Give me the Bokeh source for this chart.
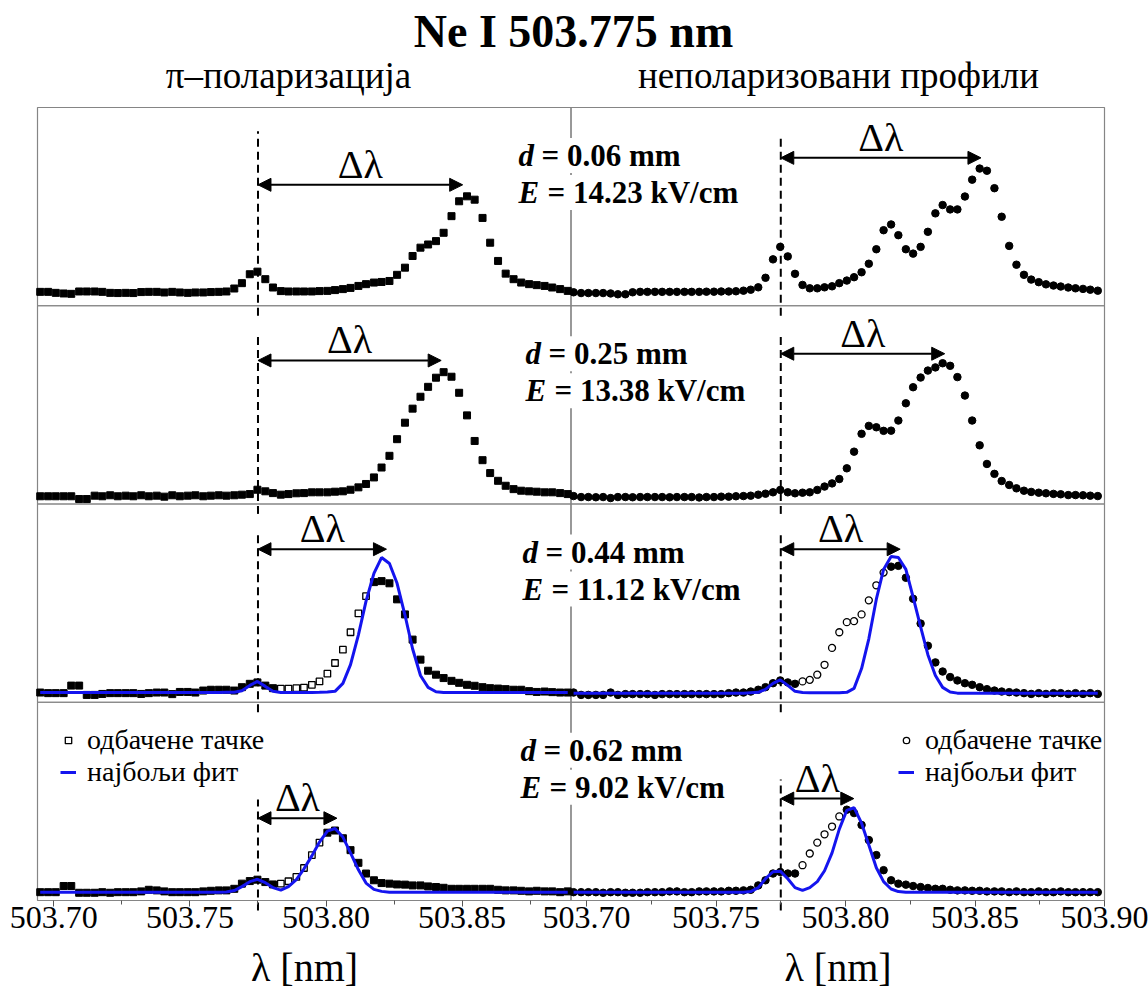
from bokeh.plotting import figure
from bokeh.models import (Range1d, LinearAxis, FixedTicker, PrintfTickFormatter, Label,
                          Arrow, NormalHead, Legend, LegendItem, BoxAnnotation)
from bokeh.embed import file_html
from bokeh.resources import INLINE

# ---------------- data ----------------
# wavelength sampling grid (nm)
LAM = [503.6950, 503.6979, 503.7007, 503.7036, 503.7064, 503.7093, 503.7121, 503.7150, 503.7178, 503.7207,
       503.7235, 503.7264, 503.7292, 503.7321, 503.7349, 503.7378, 503.7406, 503.7435, 503.7463, 503.7492,
       503.7520, 503.7549, 503.7577, 503.7606, 503.7634, 503.7663, 503.7691, 503.7720, 503.7748, 503.7777,
       503.7805, 503.7834, 503.7862, 503.7891, 503.7919, 503.7948, 503.7976, 503.8005, 503.8033, 503.8062,
       503.8090, 503.8119, 503.8147, 503.8176, 503.8204, 503.8233, 503.8261, 503.8290, 503.8318, 503.8347,
       503.8375, 503.8404, 503.8432, 503.8461, 503.8489, 503.8518, 503.8546, 503.8575, 503.8603, 503.8632,
       503.8660, 503.8689, 503.8717, 503.8746, 503.8774, 503.8803, 503.8831, 503.8860, 503.8888, 503.8917,
       503.8945, 503.8974]

LINE_NM = 503.775          # unshifted Ne I line
D_MM = ["0.06", "0.25", "0.44", "0.62"]
E_KV = ["14.23", "13.38", "11.12", "9.02"]

# pi-polarisation (left column), intensity in % of panel height
PI_1 = [7.0, 7.0, 6.5, 6.2, 6.0, 7.2, 7.2, 7.2, 7.0, 6.5,
        6.4, 6.5, 6.4, 6.9, 7.0, 7.0, 6.7, 7.0, 6.7, 6.5,
        6.7, 6.7, 6.9, 7.0, 7.2, 8.7, 11.4, 15.9, 17.2, 13.4,
        9.2, 7.4, 7.2, 7.2, 7.2, 7.2, 7.4, 7.5, 7.9, 8.4,
        9.0, 10.0, 10.9, 11.7, 12.0, 12.5, 15.6, 19.2, 25.1, 29.3,
        30.9, 32.6, 36.8, 45.2, 52.7, 55.2, 53.5, 44.3, 31.8, 22.6,
        16.2, 13.4, 11.7, 10.9, 10.4, 10.0, 9.2, 8.4, 7.5]
PI_2 = [3.9, 3.9, 3.9, 3.9, 3.9, 2.5, 2.5, 4.2, 3.9, 4.4,
        3.9, 4.2, 3.9, 4.4, 3.9, 4.2, 3.7, 4.4, 3.9, 4.2,
        4.4, 3.9, 4.2, 4.4, 4.2, 4.4, 4.7, 5.0, 7.2, 6.4,
        5.5, 4.7, 5.0, 5.4, 5.5, 5.9, 5.9, 5.9, 6.2, 6.4,
        7.2, 8.4, 10.1, 13.4, 18.4, 24.3, 32.7, 41.0, 48.1, 54.1,
        59.1, 63.7, 66.5, 64.2, 56.1, 44.7, 31.8, 22.1, 15.6, 11.7,
        9.2, 7.5, 6.7, 6.4, 6.2, 5.9, 5.9, 5.5, 5.0]
PI_3 = [4.9, 4.6, 4.6, 4.6, 8.4, 8.4, 3.7, 3.7, 4.2, 4.6,
        4.6, 4.6, 4.6, 4.2, 4.6, 4.9, 4.9, 4.1, 5.2, 5.2,
        4.9, 5.9, 6.3, 6.3, 6.3, 5.9, 7.6, 9.3, 10.0, 8.4,
        7.1, 6.9, 6.9, 7.1, 7.4, 8.8, 10.5, 14.4, 19.8, 26.5,
        35.3, 44.8, 53.5, 60.6, 61.1, 60.0, 51.9, 44.3, 31.6, 21.5,
        15.9, 13.9, 12.2, 10.8, 9.8, 8.8, 8.3, 7.6, 7.1, 6.9,
        6.6, 6.3, 6.3, 5.6, 5.2, 5.4, 5.1, 4.9, 4.9]
PI_4 = [4.2, 4.2, 4.2, 7.3, 7.3, 3.9, 3.9, 3.9, 4.2, 3.9,
        4.2, 4.2, 4.2, 4.6, 5.4, 5.1, 4.6, 4.2, 4.2, 4.2,
        4.2, 4.6, 4.9, 5.1, 5.1, 5.9, 8.5, 9.8, 10.5, 9.3,
        8.1, 8.5, 9.7, 11.9, 16.4, 22.9, 29.2, 34.2, 35.3, 31.4,
        25.4, 19.0, 13.6, 10.2, 8.8, 8.5, 8.1, 8.0, 7.6, 7.6,
        7.1, 6.8, 6.4, 5.9, 5.9, 5.9, 5.9, 5.9, 5.9, 5.4,
        5.1, 5.1, 4.9, 4.6, 4.9, 4.6, 4.6, 4.2, 4.6]
FIT_PI_3 = [4.9, 4.9, 4.9, 4.9, 4.9, 4.9, 4.9, 4.9, 4.9, 4.9,
            4.9, 4.9, 4.9, 4.9, 4.9, 4.9, 4.9, 4.9, 4.9, 4.9,
            4.9, 4.9, 4.9, 4.9, 5.0, 5.0, 5.8, 8.5, 10.5, 8.0,
            5.5, 4.9, 4.9, 4.9, 4.9, 4.9, 5.0, 5.2, 5.5, 9.5,
            19.0, 34.0, 51.0, 65.0, 73.0, 70.0, 60.0, 44.0, 27.0, 13.5,
            7.5, 5.3, 4.9, 4.9, 4.9, 4.9, 4.9, 4.9, 4.9, 4.9,
            4.9, 4.9, 4.9, 4.9, 4.9, 4.9, 4.9, 4.9, 4.9]
FIT_PI_4 = [4.2, 4.2, 4.2, 4.2, 4.2, 4.2, 4.2, 4.2, 4.2, 4.2,
            4.2, 4.2, 4.2, 4.2, 4.2, 4.2, 4.2, 4.2, 4.2, 4.2,
            4.2, 4.2, 4.2, 4.2, 4.3, 5.0, 7.0, 9.5, 10.7, 9.0,
            6.5, 5.2, 7.0, 10.5, 16.0, 22.5, 29.5, 35.0, 36.3, 32.0,
            24.0, 15.5, 8.8, 5.6, 4.6, 4.2, 4.2, 4.2, 4.2, 4.2,
            4.2, 4.2, 4.2, 4.2, 4.2, 4.2, 4.2, 4.2, 4.2, 4.2,
            4.2, 4.2, 4.2, 4.2, 4.2, 4.2, 4.2, 4.2, 4.2]
DISC_PI_3 = [31, 32, 33, 34, 35, 36, 37, 38, 39, 40, 41, 42]
DISC_PI_4 = [31, 32, 33, 34, 35, 36]

# unpolarised profiles (right column)
UN_1 = [6.8, 6.4, 6.4, 6.4, 6.4, 6.2, 5.8, 5.8, 6.8, 7.0,
        7.0, 7.0, 7.0, 7.0, 7.0, 7.0, 7.0, 7.0, 7.1, 7.1,
        7.2, 7.2, 7.3, 7.6, 8.1, 9.3, 14.1, 23.4, 29.7, 24.9,
        16.1, 10.5, 8.8, 8.8, 9.3, 9.8, 11.4, 12.7, 14.4, 16.9,
        21.2, 28.5, 38.1, 41.0, 35.6, 28.5, 26.3, 29.7, 37.3, 46.6,
        50.8, 48.6, 48.6, 55.1, 63.6, 69.2, 68.1, 59.3, 44.9, 30.2,
        20.7, 15.6, 13.2, 11.9, 10.8, 10.2, 9.7, 9.2, 8.8, 8.5,
        8.1, 7.6]
UN_2 = [4.0, 3.5, 3.5, 3.4, 3.5, 3.0, 3.5, 3.5, 3.4, 3.5,
        3.5, 3.5, 3.5, 3.4, 3.5, 3.5, 3.5, 3.3, 3.5, 3.5,
        3.7, 3.7, 3.9, 4.0, 4.2, 4.7, 5.2, 5.9, 7.1, 5.9,
        5.4, 5.7, 5.9, 7.1, 8.8, 10.4, 12.6, 18.0, 26.4, 35.4,
        39.4, 38.7, 36.9, 37.0, 42.1, 50.8, 58.9, 63.8, 67.3, 68.9,
        71.0, 69.7, 64.0, 54.7, 42.1, 29.6, 20.2, 15.2, 11.6, 9.6,
        7.9, 6.7, 6.1, 5.7, 5.4, 5.1, 4.9, 4.5, 4.5, 4.4,
        4.2, 4.0]
UN_3 = [4.9, 3.7, 3.7, 3.7, 3.7, 4.9, 3.7, 4.1, 4.1, 4.1,
        4.1, 3.7, 4.1, 4.1, 4.1, 4.1, 4.1, 4.1, 4.1, 4.1,
        4.1, 4.6, 4.9, 4.9, 5.4, 6.3, 7.6, 9.6, 11.0, 10.0,
        9.3, 10.5, 11.3, 13.9, 18.9, 27.4, 35.3, 40.4, 40.9, 44.3,
        51.4, 59.0, 65.4, 68.4, 68.8, 62.8, 52.2, 39.7, 28.5, 20.1,
        15.5, 12.7, 11.0, 9.6, 8.8, 7.6, 6.6, 5.9, 5.4, 5.1,
        4.9, 4.6, 4.2, 4.6, 4.2, 4.6, 4.6, 4.2, 4.6, 4.2,
        4.6, 4.2]
UN_4 = [4.2, 4.2, 4.2, 4.2, 3.9, 4.2, 4.2, 3.9, 3.9, 3.9,
        4.2, 4.2, 4.2, 4.6, 4.6, 4.2, 4.2, 4.6, 4.6, 4.6,
        4.6, 4.9, 4.9, 5.1, 5.4, 7.6, 10.2, 13.6, 14.4, 13.6,
        13.6, 17.8, 23.7, 29.2, 33.4, 37.3, 42.4, 45.8, 44.1, 38.1,
        30.5, 22.9, 15.3, 10.2, 8.5, 8.0, 7.3, 6.8, 6.3, 5.9,
        5.9, 5.4, 5.1, 5.1, 4.9, 4.9, 4.6, 4.6, 4.6, 4.2,
        4.6, 4.2, 4.2, 4.6, 4.2, 4.2, 4.6, 4.2, 4.2, 4.2,
        4.2, 4.2]
FIT_UN_3 = [4.6, 4.6, 4.6, 4.6, 4.6, 4.6, 4.6, 4.6, 4.6, 4.6,
            4.6, 4.6, 4.6, 4.6, 4.6, 4.6, 4.6, 4.6, 4.6, 4.6,
            4.6, 4.6, 4.6, 4.6, 4.8, 5.0, 6.5, 9.5, 11.3, 8.5,
            5.5, 4.9, 4.8, 4.8, 4.8, 4.8, 4.8, 5.0, 7.0, 17.0,
            32.0, 52.0, 67.0, 73.5, 73.0, 67.0, 53.0, 38.0, 24.0, 13.5,
            7.5, 5.2, 4.6, 4.6, 4.6, 4.6, 4.6, 4.6, 4.6, 4.6,
            4.6, 4.6, 4.6, 4.6, 4.6, 4.6, 4.6, 4.6, 4.6, 4.6,
            4.6, 4.6]
FIT_UN_4 = [4.2, 4.2, 4.2, 4.2, 4.2, 4.2, 4.2, 4.2, 4.2, 4.2,
            4.2, 4.2, 4.2, 4.2, 4.2, 4.2, 4.2, 4.2, 4.2, 4.2,
            4.2, 4.2, 4.2, 4.2, 4.5, 6.5, 11.0, 14.5, 14.8, 11.0,
            6.5, 5.1, 6.5, 9.5, 15.0, 24.0, 36.0, 45.5, 46.8, 39.0,
            28.0, 16.5, 9.5, 5.8, 4.5, 4.2, 4.2, 4.2, 4.2, 4.2,
            4.2, 4.2, 4.2, 4.2, 4.2, 4.2, 4.2, 4.2, 4.2, 4.2,
            4.2, 4.2, 4.2, 4.2, 4.2, 4.2, 4.2, 4.2, 4.2, 4.2,
            4.2, 4.2]
DISC_UN_3 = [31, 32, 33, 34, 35, 36, 37, 38, 39, 40, 41, 42]
DISC_UN_4 = [31, 32, 33, 34, 35, 36]

# shifted peak positions (end of the delta-lambda arrows), nm
SHIFT_PI = [503.8502, 503.8423, 503.8222, 503.8040]
SHIFT_UN = [503.8523, 503.8383, 503.8211, 503.8032]

TICKS_PI = [503.70, 503.75, 503.80, 503.85]
TICKS_UN = [503.70, 503.75, 503.80, 503.85, 503.90]
MINOR_PI = [503.725, 503.775, 503.825, 503.875]
MINOR_UN = [503.725, 503.775, 503.825, 503.875]

# ---------------- layout / style ----------------
FONT = "'Liberation Serif', 'Times New Roman', Tinos, 'DejaVu Serif', serif"
FRAME = "#858585"
BLUE = "#1414ee"
W, H = 1148, 991
RANGE_PI = (503.694, 503.890)
RANGE_UN = (503.694, 503.900)
# pixel boxes of the panels
COL_PX = {"L": (37, 570.5), "R": (570.5, 1104)}
ROW_TOP, ROW_H = 107, 198.25

ARROW_Y = {"L": [61.0, 72.4, 77.2, 41.5], "R": [74.6, 75.8, 77.2, 51.4]}
DASH_TOP = {"L": [88, 85, 86, 51], "R": [86, 84.5, 86, 61]}


def x_panel_range(lo, hi, a, b):
    s = (hi - lo) / (b - a)
    return Range1d(start=lo - a * s, end=lo + (W - a) * s)


def y_panel_range(lo, hi, top_px, bottom_px):
    s = (hi - lo) / (bottom_px - top_px)
    return Range1d(start=lo - (H - bottom_px) * s, end=hi + top_px * s)


p = figure(width=W, height=H, x_range=Range1d(0, W), y_range=Range1d(H, 0),
           min_border_left=0, min_border_right=0, min_border_top=0, min_border_bottom=0,
           x_axis_location=None, y_axis_location=None, toolbar_location=None,
           output_backend="svg", title=None)
p.outline_line_color = None
p.xgrid.visible = False
p.ygrid.visible = False
p.background_fill_color = "white"
p.border_fill_color = "white"
p.extra_x_ranges = {"L": x_panel_range(*RANGE_PI, *COL_PX["L"]),
                    "R": x_panel_range(*RANGE_UN, *COL_PX["R"])}
p.extra_y_ranges = {f"row{r}": y_panel_range(0, 100, ROW_TOP + r * ROW_H, ROW_TOP + (r + 1) * ROW_H)
                    for r in range(4)}

sides = {
    "L": dict(vals=[PI_1, PI_2, PI_3, PI_4], fits=[None, None, FIT_PI_3, FIT_PI_4],
              disc=[[], [], DISC_PI_3, DISC_PI_4], shift=SHIFT_PI, marker="square", size=7,
              rng=RANGE_PI),
    "R": dict(vals=[UN_1, UN_2, UN_3, UN_4], fits=[None, None, FIT_UN_3, FIT_UN_4],
              disc=[[], [], DISC_UN_3, DISC_UN_4], shift=SHIFT_UN, marker="circle", size=7.5,
              rng=RANGE_UN),
}
legend_refs = {"L": {}, "R": {}}

for r in range(4):
    yr = f"row{r}"
    for side, cfg in sides.items():
        vals = cfg["vals"][r]
        lam = LAM[:len(vals)]
        disc = set(cfg["disc"][r])
        # panel frame
        p.add_layout(BoxAnnotation(left=cfg["rng"][0], right=cfg["rng"][1], bottom=0, top=100,
                                   x_range_name=side, y_range_name=yr, fill_color=None,
                                   line_color=FRAME, line_alpha=1, line_width=1.2, level="underlay"))
        # dashed line at the unshifted wavelength
        p.segment(x0=[LINE_NM], y0=[-5], x1=[LINE_NM], y1=[DASH_TOP[side][r]],
                  line_color="black", line_width=2, line_dash="8 5",
                  x_range_name=side, y_range_name=yr)
        kx = [l for k, l in enumerate(lam) if k not in disc]
        ky = [v for k, v in enumerate(vals) if k not in disc]
        p.scatter(kx, ky, marker=cfg["marker"], size=cfg["size"], fill_color="black",
                  line_color="black", x_range_name=side, y_range_name=yr)
        if disc:
            dx = [l for k, l in enumerate(lam) if k in disc]
            dy = [v for k, v in enumerate(vals) if k in disc]
            ro = p.scatter(dx, dy, marker=cfg["marker"], size=cfg["size"] - 0.5, fill_color="white",
                           line_color="black", line_width=1.3, x_range_name=side, y_range_name=yr)
            legend_refs[side]["open"] = ro
        fit = cfg["fits"][r]
        if fit is not None:
            rf = p.line(lam, fit, line_color=BLUE, line_width=3, x_range_name=side, y_range_name=yr)
            legend_refs[side]["fit"] = rf
        ay = ARROW_Y[side][r]
        sh = cfg["shift"][r]
        p.add_layout(Arrow(start=NormalHead(size=13, line_color="black", fill_color="black"),
                           end=NormalHead(size=13, line_color="black", fill_color="black"),
                           x_start=LINE_NM, y_start=ay, x_end=sh, y_end=ay, line_width=2,
                           x_range_name=side, y_range_name=yr))
        p.add_layout(Label(x=(LINE_NM + sh) / 2, y=ay, text="Δλ", text_align="center",
                           text_baseline="bottom", y_offset=-2, text_font=FONT, text_color="black",
                           text_font_size="40px", x_range_name=side, y_range_name=yr))

# d / E annotations (pixel positions of the text blocks)
DE_X = [518, 525, 522, 520]
for r in range(4):
    top = ROW_TOP + r * ROW_H
    for yo, sym, txt, dx in ((48, "d", f"= {D_MM[r]} mm", 23),
                             (85, "E", f"= {E_KV[r]} kV/cm", 29)):
        p.add_layout(Label(x=DE_X[r], y=top + yo, text=sym, text_font=FONT, text_font_size="31px",
                           text_font_style="bold italic", text_baseline="middle", text_color="black",
                           background_fill_color="white"))
        p.add_layout(Label(x=DE_X[r], y=top + yo, x_offset=dx, text=txt, text_font=FONT,
                           text_font_size="31px", text_font_style="bold", text_baseline="middle",
                           text_color="black", background_fill_color="white"))

# titles
p.add_layout(Label(x=573, y=31, text="Ne I 503.775 nm", text_align="center",
                   text_baseline="middle", text_font=FONT, text_font_size="46px",
                   text_font_style="bold", text_color="black"))
p.add_layout(Label(x=288, y=75, text="π–поларизација", text_align="center",
                   text_baseline="middle", text_font=FONT, text_font_size="37px", text_color="black"))
p.add_layout(Label(x=838, y=75, text="неполаризовани профили", text_align="center",
                   text_baseline="middle", text_font=FONT, text_font_size="37px", text_color="black"))

# axes, drawn at the bottom of the lowest row of panels
for side, rng, ticks, minor in (("L", RANGE_PI, TICKS_PI, MINOR_PI), ("R", RANGE_UN, TICKS_UN, MINOR_UN)):
    ax = LinearAxis(x_range_name=side, y_range_name="row3",
                    ticker=FixedTicker(ticks=ticks, minor_ticks=minor),
                    formatter=PrintfTickFormatter(format="%.2f"), bounds=rng, fixed_location=0,
                    axis_label="λ [nm]", axis_line_color=None,
                    major_tick_in=0, major_tick_out=6, minor_tick_in=0, minor_tick_out=4,
                    major_tick_line_color="#555555", minor_tick_line_color="#555555",
                    major_label_text_font=FONT, major_label_text_font_size="32px",
                    major_label_text_color="black", major_label_standoff=0,
                    axis_label_text_font=FONT, axis_label_text_font_size="40px",
                    axis_label_text_font_style="normal", axis_label_text_color="black",
                    axis_label_standoff=14)
    p.add_layout(ax, "below")

# legends
for side, loc in (("L", (60, 203)), ("R", (898, 203))):
    leg = Legend(items=[LegendItem(label="одбачене тачке", renderers=[legend_refs[side]["open"]]),
                        LegendItem(label="најбољи фит", renderers=[legend_refs[side]["fit"]])],
                 location=loc, orientation="vertical", label_text_font=FONT, label_text_color="black",
                 label_text_font_size="28px", glyph_width=16, glyph_height=32, label_height=32,
                 label_standoff=11, spacing=0, padding=0, margin=0,
                 border_line_alpha=0, background_fill_alpha=0)
    p.add_layout(leg)

open("out.html", "w").write(file_html(p, INLINE))
